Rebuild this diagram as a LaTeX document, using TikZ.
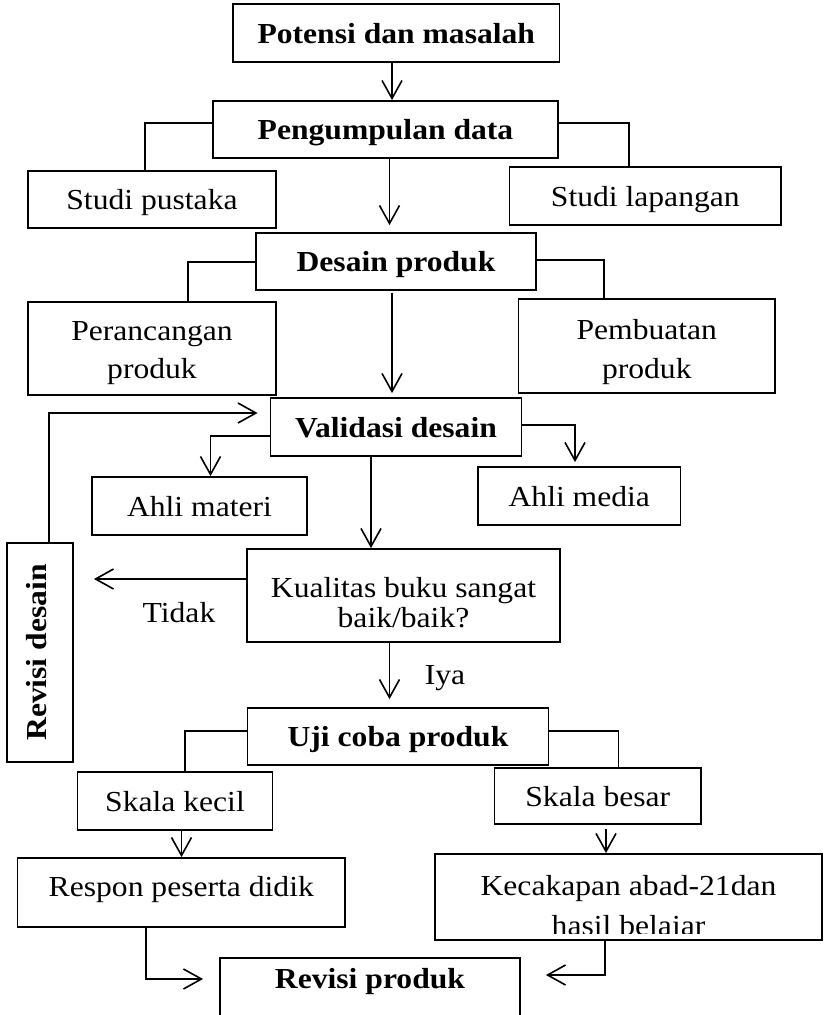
\documentclass[tikz,border=0pt]{standalone}
\usepackage{fontspec}
\setmainfont{Liberation Serif}[FakeStretch=1.09]
\usetikzlibrary{arrows.meta}
\newcommand{\mytwo}[2]{\begin{tabular}[b]{@{}c@{}}#1\\#2\end{tabular}}
\newcommand{\fs}[1]{\fontsize{29pt}{#1}\selectfont}
\begin{document}
\begin{tikzpicture}[x=1pt,y=-1pt,
  box/.style={draw, line width=1.8pt, inner sep=0pt, font=\fs{33pt}},
  one/.style={text height=22pt, text depth=2pt},
  bbox/.style={box, one, font=\fs{33pt}\bfseries},
  nbox/.style={box, one},
  arr/.style={line width=1.6pt, -{Straight Barb[length=18pt,width=20pt]}},
  br/.style={line width=1.3pt},
  lbl/.style={inner sep=0pt, font=\fs{33pt}}]
\useasboundingbox (0,0) rectangle (825,1015);
\clip (0,0) rectangle (825,1015);

% boxes
\node[bbox, minimum width=326.5pt, minimum height=58pt] (pot) at (396.3,33) {Potensi dan masalah};
\node[bbox, minimum width=345pt, minimum height=57pt] (peng) at (385.5,129.5) {Pengumpulan data};
\node[nbox, minimum width=248pt, minimum height=57pt] (sp) at (152,199.5) {Studi pustaka};
\node[nbox, minimum width=271.5pt, minimum height=58pt] (sl) at (645.3,196) {Studi lapangan};
\node[bbox, minimum width=280pt, minimum height=57pt] (des) at (396,261.5) {Desain produk};
\node[box, minimum width=248pt, minimum height=93pt, text height=59pt, text depth=0pt,
      font=\fs{38pt}] (per) at (152,348.5) {\mytwo{Perancangan}{produk}};
\node[box, minimum width=256.5pt, minimum height=94pt, text height=64pt, text depth=0pt,
      font=\fs{39pt}] (pem) at (646.8,346) {\mytwo{Pembuatan}{produk}};
\node[bbox, minimum width=251pt, minimum height=58pt] (val) at (396,427) {Validasi desain};
\node[nbox, minimum width=215pt, minimum height=58pt] (am) at (199.5,506) {Ahli materi};
\node[nbox, minimum width=202.5pt, minimum height=58pt] (amed) at (579.3,496) {Ahli media};
\node[box, minimum width=313pt, minimum height=93pt, text height=63pt, text depth=0pt,
      font=\fs{30pt}] (kual) at (403.5,595.5) {\mytwo{Kualitas buku sangat}{baik/baik?}};
\node[box, minimum width=66pt, minimum height=219pt] (rev) at (40,652.5)
      {\rotatebox{90}{\bfseries\rule[-8pt]{0pt}{20pt}Revisi desain}};
\node[bbox, minimum width=301pt, minimum height=57pt] (uji) at (398,736.5) {Uji coba produk};
\node[nbox, minimum width=195pt, minimum height=58pt] (sk) at (175,801) {Skala kecil};
\node[nbox, minimum width=206.5pt, minimum height=56pt] (sb) at (597.8,796) {Skala besar};
\node[box, minimum width=327.5pt, minimum height=69pt, text height=20pt, text depth=12pt] (resp) at (181.3,892.5) {Respon peserta didik};
\node[box, minimum width=387pt, minimum height=86pt] (kec) at (628.5,897) {};
\begin{scope}
  \clip (436,855) rectangle (821,933);
  \node[lbl, anchor=base, font=\fs{40pt}] (kect) at (628.5,935)
      {\mytwo{Kecakapan abad-21dan}{hasil belajar}};
\end{scope}
\node[box, minimum width=300pt, minimum height=80pt, text height=0pt, text depth=20pt,
      font=\fs{33pt}\bfseries] (rp) at (370,998) {Revisi produk};

% labels
\node[lbl] (tidak) at (179,612.5) {Tidak};
\node[lbl] (iya) at (445,678) {Iya};

% connectors
\draw[arr] (392,0 |- pot.south) -- (392,0 |- peng.north);
\draw[br] (peng.west |- 0,123) -| (145,0 |- sp.north);
\draw[br] (peng.east |- 0,123) -| (629,0 |- sl.north);
\draw[arr, shorten >=7pt] (389.5,0 |- peng.south) -- (389.5,0 |- des.north);
\draw[br] (des.west |- 0,262) -| (188,0 |- per.north);
\draw[br] (des.east |- 0,260) -| (604,0 |- pem.north);
\draw[arr, shorten <=2pt, shorten >=4pt] (392,0 |- des.south) -- (392,0 |- val.north);
\draw[arr] (val.west |- 0,436) -| (210.5,0 |- am.north);
\draw[arr, shorten >=4pt] (val.east |- 0,425) -| (575,0 |- amed.north);
\draw[arr] (371,0 |- val.south) -- (371,0 |- kual.north);
\draw[arr, shorten >=20pt] (kual.west |- 0,579) -- (rev.east |- 0,579);
\draw[arr, shorten >=12pt] (49,0 |- rev.north) |- (val.west |- 0,413);
\draw[arr, shorten >=8pt] (389.5,0 |- kual.south) -- (389.5,0 |- uji.north);
\draw[br] (uji.west |- 0,731) -| (185,0 |- sk.north);
\draw[br] (uji.east |- 0,731) -| (618.5,0 |- sb.north);
\draw[arr] (181.5,0 |- sk.south) -- (181.5,0 |- resp.north);
\draw[arr, shorten <=4pt] (606,0 |- sb.south) -- (606,0 |- kec.north);
\draw[arr, shorten >=16pt] (146,0 |- resp.south) |- (rp.west |- 0,979);
\draw[arr, shorten >=25pt] (605,0 |- kec.south) |- (rp.east |- 0,975);
\end{tikzpicture}
\end{document}
